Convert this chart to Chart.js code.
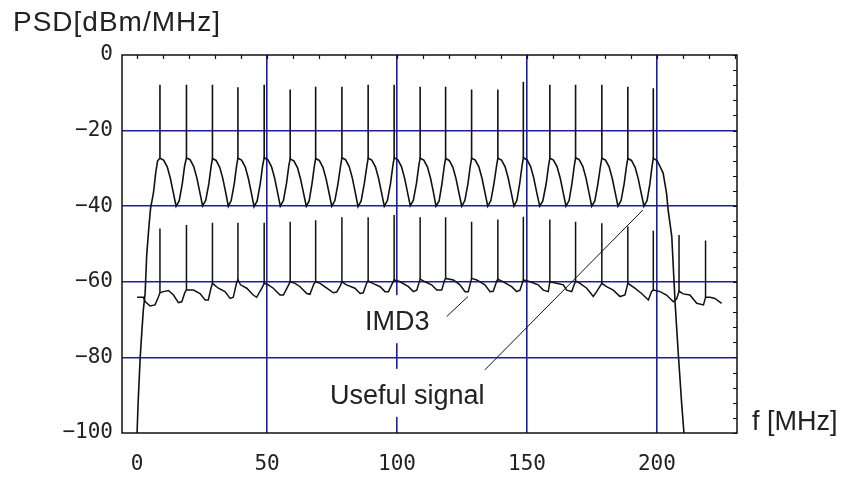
<!DOCTYPE html>
<html><head><meta charset="utf-8">
<script src="https://cdn.jsdelivr.net/npm/chart.js@4/dist/chart.umd.min.js"></script>
<style>html,body{margin:0;padding:0;background:#fff;}canvas{display:block;}</style>
</head><body>
<canvas id="c" width="856" height="477" style="width:856px;height:477px"></canvas>
<script>
// ---------- text ----------
const yAxisTitle = 'PSD[dBm/MHz]';
const xAxisTitle = 'f [MHz]';
const imdLabel = 'IMD3';
const signalLabel = 'Useful signal';

// ---------- tick values ----------
const xTickValues = [0, 50, 100, 150, 200];
const yTickValues = [0, -20, -40, -60, -80, -100];
const topFrameTicks = [0,10,20,30,40,50,60,70,80,90,100,110,120,130,140,150,160,170,180,190,200,210,220,230];
const rightFrameTicks = [0,-4,-8,-12,-16,-20,-24,-28,-32,-36,-40,-44,-48,-52,-56,-60,-64,-68,-72,-76,-80,-84,-88,-92,-96,-100];

// ---------- useful signal: tones ----------
const toneFreqs = [8.8,19.0,29.0,38.8,48.9,58.9,68.7,78.8,88.9,98.9,108.9,118.7,128.7,138.8,148.6,158.8,168.7,178.8,188.8,198.6];
const toneTops  = [-7.9,-7.9,-7.9,-8.5,-7.9,-9.1,-8.4,-8.4,-7.9,-7.9,-8.4,-8.4,-9.1,-9.1,-7.1,-7.9,-7.9,-7.9,-8.4,-8.8];
const toneBases = [-27.3,-27.2,-27.4,-27.3,-27.2,-27.5,-27.4,-27.2,-27.3,-27.2,-27.3,-27.4,-27.3,-27.3,-27.2,-27.3,-27.2,-27.3,-27.4,-27.3];

// ---------- useful signal: envelope [MHz, dBm/MHz] ----------
const signalCurve = [
 [0,-100],[0.4,-92],[1.2,-80],[1.8,-73.5],[2.4,-67.5],[3.1,-63],[3.7,-53],[4.6,-45],[5.2,-40.5],[6.3,-36.5],[7.2,-31],[7.9,-28],
 [8.8,-27.3],[10.2,-27.8],[11.6,-29.6],[12.8,-32.6],[13.9,-36.3],[15.0,-40.0],[16.2,-38.6],[17.4,-34.0],[18.3,-29.3],
 [19.0,-27.2],[20.4,-27.7],[21.8,-29.5],[23.0,-32.5],[24.1,-36.2],[25.2,-39.9],[26.4,-38.5],[27.6,-34.1],[28.5,-29.4],
 [29.0,-27.4],[30.4,-27.9],[31.8,-29.7],[33.0,-32.7],[34.1,-36.4],[35.1,-40.0],[36.2,-38.5],[37.4,-34.0],[38.3,-29.2],
 [38.8,-27.3],[40.2,-27.8],[41.6,-29.6],[42.8,-32.6],[43.9,-36.3],[45.0,-40.1],[46.2,-38.6],[47.4,-34.0],[48.3,-29.3],
 [48.9,-27.2],[50.3,-27.7],[51.7,-29.5],[52.9,-32.5],[54.0,-36.2],[55.1,-40.0],[56.3,-38.5],[57.5,-33.9],[58.4,-29.2],
 [58.9,-27.5],[60.3,-28.0],[61.7,-29.8],[62.9,-32.8],[64.0,-36.4],[65.1,-40.0],[66.2,-38.6],[67.3,-34.0],[68.2,-29.4],
 [68.7,-27.4],[70.1,-27.9],[71.5,-29.7],[72.7,-32.7],[73.8,-36.3],[74.9,-40.0],[76.1,-38.5],[77.3,-34.0],[78.3,-29.3],
 [78.8,-27.2],[80.2,-27.7],[81.6,-29.5],[82.8,-32.5],[83.9,-36.2],[85.0,-40.1],[86.2,-38.6],[87.4,-34.1],[88.4,-29.4],
 [88.9,-27.3],[90.3,-27.8],[91.7,-29.6],[92.9,-32.6],[94.0,-36.3],[95.1,-40.0],[96.3,-38.5],[97.5,-34.0],[98.4,-29.3],
 [98.9,-27.2],[100.3,-27.7],[101.7,-29.5],[102.9,-32.5],[104.0,-36.2],[105.1,-39.9],[106.3,-38.4],[107.5,-33.9],[108.4,-29.2],
 [108.9,-27.3],[110.3,-27.8],[111.7,-29.6],[112.9,-32.6],[114.0,-36.3],[115.0,-40.0],[116.2,-38.6],[117.3,-34.0],[118.2,-29.3],
 [118.7,-27.4],[120.1,-27.9],[121.5,-29.7],[122.7,-32.7],[123.8,-36.4],[124.9,-40.0],[126.1,-38.5],[127.3,-34.0],[128.2,-29.3],
 [128.7,-27.3],[130.1,-27.8],[131.5,-29.6],[132.7,-32.6],[133.8,-36.3],[134.9,-40.0],[136.1,-38.5],[137.3,-34.0],[138.3,-29.3],
 [138.8,-27.3],[140.2,-27.8],[141.6,-29.6],[142.8,-32.6],[143.9,-36.3],[145.0,-40.0],[146.1,-38.5],[147.2,-34.0],[148.1,-29.3],
 [148.6,-27.2],[150.0,-27.7],[151.4,-29.5],[152.6,-32.5],[153.7,-36.2],[154.9,-40.0],[156.1,-38.6],[157.4,-34.0],[158.3,-29.3],
 [158.8,-27.3],[160.2,-27.8],[161.6,-29.6],[162.8,-32.6],[163.9,-36.3],[165.0,-40.0],[166.2,-38.5],[167.3,-34.0],[168.2,-29.3],
 [168.7,-27.2],[170.1,-27.7],[171.5,-29.5],[172.7,-32.5],[173.8,-36.2],[174.9,-40.0],[176.1,-38.6],[177.3,-34.0],[178.3,-29.3],
 [178.8,-27.3],[180.2,-27.8],[181.6,-29.6],[182.8,-32.6],[183.9,-36.3],[185.0,-40.0],[186.2,-38.5],[187.4,-34.0],[188.3,-29.3],
 [188.8,-27.4],[190.2,-27.9],[191.6,-29.7],[192.8,-32.7],[193.9,-36.4],[195.0,-40.0],[196.2,-38.5],[197.3,-34.0],[198.1,-29.5],
 [198.6,-27.3],[200.0,-27.9],[201.2,-29.5],[202.4,-31.3],[203.7,-36.6],[204.3,-41.0],[205.7,-48.0],[207.0,-65.7],[208.2,-78.9],[209.5,-92.1],[210.4,-100]
];

// ---------- IMD3: spectral lines ----------
const imdSpikeFreqs = [8.8,19.0,29.0,38.8,48.9,58.9,68.7,78.8,88.9,98.9,108.9,118.7,128.7,138.8,148.6,158.8,168.7,178.8,188.8,198.6,208.5,218.7];
const imdSpikeTops  = [-45.9,-45.0,-44.4,-44.4,-44.4,-44.1,-43.7,-42.9,-42.9,-42.3,-42.9,-42.9,-44.1,-43.5,-42.8,-43.5,-44.1,-44.5,-45.4,-46.5,-47.6,-49.1];
const imdSpikeBases = [-62.9,-62.2,-60.4,-59.5,-60.4,-60.0,-60.0,-60.0,-59.8,-59.5,-59.3,-59.1,-59.1,-59.3,-59.5,-60.0,-59.8,-60.4,-60.4,-62.2,-62.5,-64.1];

// ---------- IMD3: floor [MHz, dBm/MHz] ----------
const imdCurve = [
 [0,-64.1],[2.4,-64.1],[3.2,-65.3],[5.0,-66.4],[6.9,-66.1],[8.2,-64.0],
 [8.8,-62.9],[10.1,-62.6],[12.1,-62.3],[14.0,-63.5],[15.9,-65.5],[17.2,-65.3],[18.4,-62.8],
 [19.0,-62.2],[21.7,-62.2],[24.2,-63.1],[26.2,-64.8],[27.4,-64.8],[28.5,-61.5],
 [29.0,-60.4],[31.3,-61.7],[33.8,-62.6],[35.8,-64.4],[37.0,-64.1],[38.3,-60.2],
 [38.8,-59.5],[39.8,-60.8],[42.2,-61.7],[44.7,-63.5],[46.0,-64.1],[48.0,-61.7],
 [48.9,-60.4],[50.5,-60.8],[52.4,-61.7],[55.0,-63.5],[56.3,-63.5],[58.3,-60.8],
 [58.9,-60.0],[60.8,-60.4],[62.7,-61.3],[65.3,-63.1],[66.5,-63.3],[68.0,-60.6],
 [68.7,-60.0],[70.4,-60.4],[73.0,-61.7],[75.5,-62.9],[76.8,-62.7],[78.2,-61.0],
 [78.8,-60.0],[80.6,-60.8],[83.8,-61.7],[85.8,-63.1],[87.0,-62.9],[88.3,-60.4],
 [88.9,-59.8],[90.9,-60.5],[93.5,-61.3],[95.4,-62.6],[96.7,-62.6],[98.3,-60.3],
 [98.9,-59.5],[101.2,-60.0],[104.4,-61.3],[106.3,-62.6],[107.6,-62.2],
 [108.9,-59.3],[110.8,-60.0],[113.3,-60.8],[115.3,-62.2],[117.2,-62.2],[118.3,-59.6],
 [118.7,-59.1],[121.7,-59.5],[124.2,-60.8],[126.2,-62.6],[127.4,-62.6],
 [128.7,-59.1],[130.7,-59.5],[133.8,-60.8],[135.8,-62.6],[137.0,-62.5],[138.5,-59.6],
 [138.8,-59.3],[140.9,-60.0],[144.1,-61.3],[146.0,-62.6],[147.3,-62.2],
 [148.6,-59.5],[151.2,-60.0],[154.3,-60.8],[156.3,-62.2],[158.2,-62.6],
 [158.8,-60.0],[161.4,-60.4],[164.0,-60.8],[165.3,-62.2],[167.2,-62.6],
 [168.7,-59.8],[170.4,-60.4],[173.0,-61.7],[175.5,-63.9],[176.8,-62.6],
 [178.8,-60.4],[180.6,-61.3],[183.2,-62.2],[185.8,-63.9],[187.7,-63.5],
 [188.8,-60.4],[191.5,-61.7],[194.1,-63.1],[196.7,-64.8],[197.9,-62.6],
 [198.6,-62.2],[201.2,-62.6],[203.7,-63.5],[206.3,-65.3],[207.6,-64.5],
 [208.5,-62.5],[210.1,-63.2],[212.7,-63.5],[215.3,-65.7],[217.9,-66.1],
 [218.7,-64.1],[220.4,-64.1],[222.3,-64.4],[224.9,-65.7]
];

// ---------- annotation pointer lines [MHz, dBm/MHz] ----------
const imdPointer = [[119.1,-69.2],[127.3,-63.9]];
const signalPointer = [[133.8,-83.3],[194.6,-41.0]];

// ---------- build datasets ----------
const toPts = arr => arr.map(p => ({x:p[0], y:p[1]}));
function spikes(freqs, bases, tops){
  const out = [];
  freqs.forEach((f,i) => { out.push({x:f,y:bases[i]},{x:f,y:tops[i]},{x:f,y:null}); });
  return out;
}
const BLUE = 'rgb(32,32,150)';
const INK = '#111';
const MONO = '"DejaVu Sans Mono", monospace';
const SANS = '"Liberation Sans", Arial, sans-serif';
const lineDs = (data, w) => ({data, borderColor:INK, borderWidth:w, pointRadius:0, tension:0, spanGaps:false, fill:false});

const labels = [
  {text: imdLabel, x: 87.7, y: -72.8},
  {text: signalLabel, x: 74.2, y: -92.3}
];

const decor = {
  id:'decor',
  beforeDatasetsDraw(chart){
    const {ctx, scales:{x,y}} = chart;
    ctx.save();
    ctx.font = '27px ' + SANS;
    labels.forEach(l => {
      const px = x.getPixelForValue(l.x), py = y.getPixelForValue(l.y);
      const w = ctx.measureText(l.text).width;
      ctx.fillStyle = '#fff';
      ctx.fillRect(px - 5, py - 35, w + 10, 48);
    });
    ctx.restore();
  },
  afterDatasetsDraw(chart){
    const {ctx, chartArea:a, scales:{x,y}} = chart;
    ctx.save();
    // frame
    ctx.strokeStyle = '#111';
    ctx.lineWidth = 1.5;
    ctx.strokeRect(a.left, a.top, a.right - a.left, a.bottom - a.top);
    // inner frame ticks
    ctx.lineWidth = 1.2;
    ctx.beginPath();
    topFrameTicks.forEach(v => { const px = Math.round(x.getPixelForValue(v)) + 0.5; ctx.moveTo(px, a.top); ctx.lineTo(px, a.top + 4); });
    rightFrameTicks.forEach(v => { const py = Math.round(y.getPixelForValue(v)) + 0.5; ctx.moveTo(a.right, py); ctx.lineTo(a.right - 4, py); });
    ctx.stroke();
    // labels
    ctx.fillStyle = '#222';
    ctx.font = '27px ' + SANS;
    ctx.textBaseline = 'alphabetic';
    ctx.textAlign = 'left';
    labels.forEach(l => ctx.fillText(l.text, x.getPixelForValue(l.x), y.getPixelForValue(l.y)));
    // axis titles
    ctx.font = '28px ' + SANS;
    ctx.letterSpacing = '1px';
    ctx.fillText(yAxisTitle, 13, 31);
    ctx.letterSpacing = '0px';
    ctx.font = '27px ' + SANS;
    ctx.fillText(xAxisTitle, a.right + 15, a.bottom - 3);
    ctx.restore();
  }
};

new Chart(document.getElementById('c'), {
  type: 'line',
  data: {
    datasets: [
      lineDs(toPts(signalCurve), 1.6),
      lineDs(spikes(toneFreqs, toneBases, toneTops), 1.6),
      lineDs(toPts(imdCurve), 1.5),
      lineDs(spikes(imdSpikeFreqs, imdSpikeBases, imdSpikeTops), 1.5),
      lineDs(toPts(imdPointer), 1),
      lineDs(toPts(signalPointer), 1)
    ]
  },
  options: {
    responsive: false,
    animation: false,
    events: [],
    layout: {padding: {left: 0, top: 55, right: 119, bottom: 0}},
    plugins: {legend: {display: false}, tooltip: {enabled: false}},
    scales: {
      x: {
        type: 'linear', min: -5.8, max: 230.8,
        afterBuildTicks: s => { s.ticks = xTickValues.map(v => ({value: v})); },
        afterFit: s => { s.height = 44; },
        border: {display: false},
        grid: {drawTicks: false, lineWidth: 1.6, color: c => (c.tick && c.tick.value === 0) ? 'rgba(0,0,0,0)' : BLUE},
        ticks: {color: '#222', font: {family: MONO, size: 21}, padding: 19, maxRotation: 0, autoSkip: false}
      },
      y: {
        type: 'linear', min: -100, max: 0,
        afterBuildTicks: s => { s.ticks = yTickValues.map(v => ({value: v})); },
        afterFit: s => { s.width = 122; },
        border: {display: false},
        grid: {drawTicks: false, lineWidth: 1.6, color: c => (c.tick && (c.tick.value === 0 || c.tick.value === -100)) ? 'rgba(0,0,0,0)' : BLUE},
        ticks: {color: '#222', font: {family: MONO, size: 21}, padding: 9,
          callback: v => v < 0 ? '\u2212' + Math.abs(v) : String(v)}
      }
    }
  },
  plugins: [decor]
});
</script>
</body></html>
